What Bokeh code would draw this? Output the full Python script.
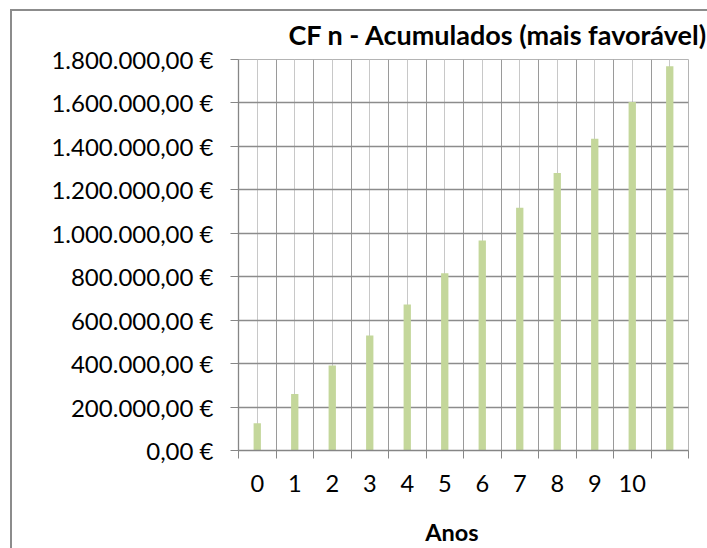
from bokeh.plotting import figure
from bokeh.models import Range1d, FixedTicker, LinearAxis, Grid, ColumnDataSource
from bokeh.embed import file_html
from bokeh.resources import INLINE

# ---- data ----
years = ["0", "1", "2", "3", "4", "5", "6", "7", "8", "9", "10", ""]
cf_acumulados = [125000, 260000, 391000, 529000, 672000, 816000,
                 967000, 1117000, 1277000, 1435000, 1604000, 1769000]
y_ticks = [0, 200000, 400000, 600000, 800000, 1000000, 1200000, 1400000, 1600000, 1800000]
y_tick_labels = ["0,00 €", "200.000,00 €", "400.000,00 €", "600.000,00 €", "800.000,00 €",
                 "1.000.000,00 €", "1.200.000,00 €", "1.400.000,00 €", "1.600.000,00 €",
                 "1.800.000,00 €"]
title_text = "CF n - Acumulados (mais favorável)"
x_title = "Anos"

FONT = "Lato"
n = len(years)
centers = [i + 0.5 for i in range(n)]
bounds = [float(i) for i in range(n + 1)]
x_title_pos = 5.69  # horizontal position of the axis title, in category units

src = ColumnDataSource(dict(x=centers, top=cf_acumulados))

frame_css = ("linear-gradient(#8c8c8c,#8c8c8c) 10px 9px / 2px 100% no-repeat, "
             "linear-gradient(#8c8c8c,#8c8c8c) 10px 9px / 100% 2px no-repeat, white")

p = figure(width=707, height=548, output_backend="svg", toolbar_location=None,
           x_range=Range1d(0, n), y_range=Range1d(0, y_ticks[-1]),
           x_axis_type=None, y_axis_type=None,
           min_border_left=238, min_border_right=19, min_border_top=59, min_border_bottom=98,
           styles={"background": frame_css})
p.outline_line_color = "#b4b4b4"
p.outline_line_width = 1
p.background_fill_color = "white"
p.border_fill_color = None
p.xgrid.visible = False
p.ygrid.visible = False

# grids
p.add_layout(Grid(dimension=0, ticker=FixedTicker(ticks=bounds, minor_ticks=centers),
                  grid_line_color="#9a9a9a", grid_line_width=1,
                  minor_grid_line_color="#c8c8c8", minor_grid_line_width=1))
p.add_layout(Grid(dimension=1, ticker=FixedTicker(ticks=y_ticks),
                  grid_line_color="#8c8c8c", grid_line_width=1.3))

p.vbar(x="x", top="top", width=0.195, source=src, color="#c4d79b", line_color=None)

# y axis
yaxis = LinearAxis(ticker=FixedTicker(ticks=y_ticks),
                   major_label_overrides={t: l for t, l in zip(y_ticks, y_tick_labels)})
yaxis.axis_line_color = "#868686"
yaxis.axis_line_width = 1.3
yaxis.major_tick_line_color = "#868686"
yaxis.major_tick_out = 8
yaxis.major_tick_in = 0
yaxis.minor_tick_line_color = None
yaxis.major_label_standoff = 17
yaxis.major_label_text_font = FONT
yaxis.major_label_text_font_size = "24px"
yaxis.major_label_text_color = "black"
p.add_layout(yaxis, "left")

# x axis
xaxis = LinearAxis(ticker=FixedTicker(ticks=centers[:-1], minor_ticks=bounds),
                   major_label_overrides={c: y for c, y in zip(centers, years)})
xaxis.axis_line_color = "#868686"
xaxis.axis_line_width = 1.3
xaxis.major_tick_line_color = None
xaxis.minor_tick_line_color = "#868686"
xaxis.minor_tick_out = 8
xaxis.minor_tick_in = 0
xaxis.major_label_standoff = 16
xaxis.major_label_text_font = FONT
xaxis.major_label_text_font_size = "23.6px"
xaxis.major_label_text_color = "black"
p.add_layout(xaxis, "below")

# axis title "Anos" as a second, line-less axis below the first one
xtitle_axis = LinearAxis(ticker=FixedTicker(ticks=[x_title_pos]),
                         major_label_overrides={x_title_pos: x_title})
xtitle_axis.axis_line_color = None
xtitle_axis.major_tick_line_color = None
xtitle_axis.minor_tick_line_color = None
xtitle_axis.major_tick_out = 0
xtitle_axis.major_tick_in = 0
xtitle_axis.major_label_standoff = 23
xtitle_axis.major_label_text_font = FONT
xtitle_axis.major_label_text_font_size = "23.5px"
xtitle_axis.major_label_text_font_style = "bold"
xtitle_axis.major_label_text_color = "black"
p.add_layout(xtitle_axis, "below")

p.title.text = title_text
p.title.align = "left"
p.title.offset = 50
p.title.text_font = FONT
p.title.text_font_size = "27px"
p.title.text_font_style = "bold"
p.title.text_color = "black"
p.title.standoff = 17

open("out.html", "w").write(file_html(p, INLINE))
